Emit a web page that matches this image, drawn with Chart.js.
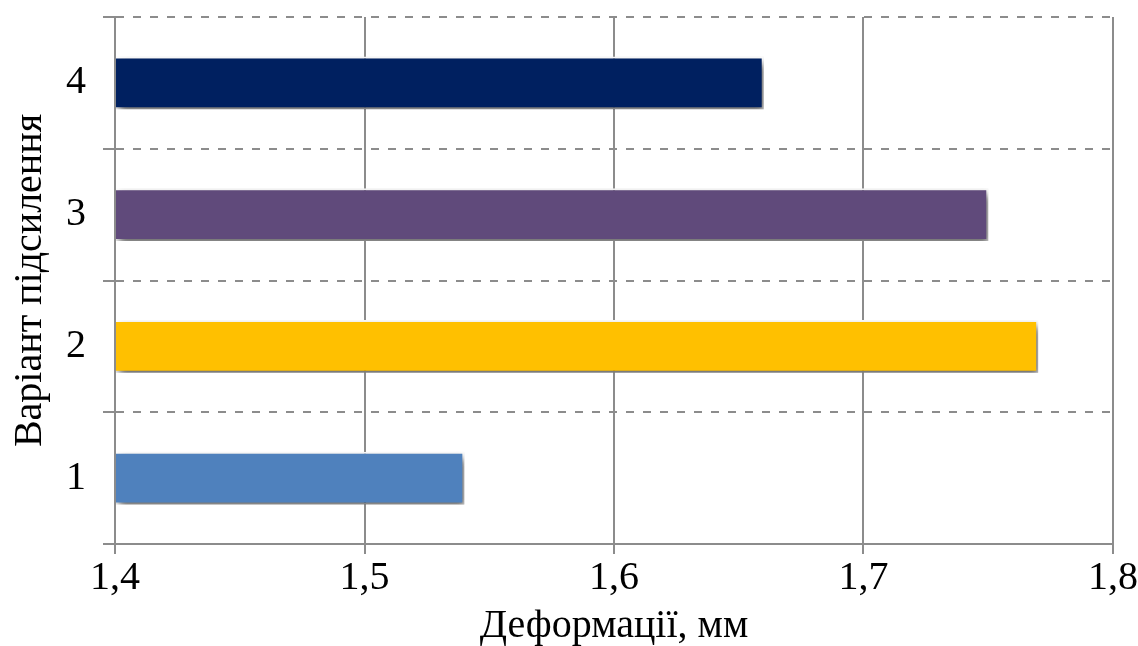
<!DOCTYPE html>
<html>
<head>
<meta charset="utf-8">
<script src="https://cdn.jsdelivr.net/npm/chart.js@4/dist/chart.umd.min.js"></script>
<style>
  html, body { margin: 0; padding: 0; background: #ffffff; }
  #wrap { width: 1138px; height: 646px; }
</style>
</head>
<body>
<div id="wrap"><canvas id="c" width="1138" height="646"></canvas></div>
<script>
// Reinforcement variants and their deformation, mm
const variants = ['1', '2', '3', '4'];
const deformation = [1.54, 1.77, 1.75, 1.66];
const barColors = ['#4F81BD', '#FFC000', '#604A7B', '#002060'];
const xTickLabels = ['1,4', '1,5', '1,6', '1,7', '1,8'];
const xTitle = 'Деформації, мм';
const yTitle = 'Варіант підсилення';

const FONT = "'Liberation Serif', 'Times New Roman', serif";
const FONT_SIZE = 40;
const GRID = '#8c8c8c';

// Soft drop shadow under the bars
const barShadow = {
  id: 'barShadow',
  beforeDatasetsDraw(chart) {
    const ctx = chart.ctx;
    ctx.save();
    ctx.shadowColor = 'rgba(0,0,0,0.6)';
    ctx.shadowBlur = 8;
    ctx.shadowOffsetX = 3;
    ctx.shadowOffsetY = 5;
  },
  afterDatasetsDraw(chart) {
    chart.ctx.restore();
  }
};

new Chart(document.getElementById('c'), {
  type: 'bar',
  data: {
    labels: variants,
    datasets: [{
      data: deformation,
      base: 1.4,
      backgroundColor: barColors,
      borderColor: '#ffffff',
      borderWidth: 2,
      borderSkipped: 'start',
      barPercentage: 0.40,
      categoryPercentage: 1.0
    }]
  },
  options: {
    indexAxis: 'y',
    responsive: false,
    animation: false,
    layout: { padding: { top: 17, right: 25, left: 0, bottom: 0 } },
    plugins: {
      legend: { display: false },
      tooltip: { enabled: false },
      title: { display: false }
    },
    scales: {
      x: {
        type: 'linear',
        min: 1.4,
        max: 1.8,
        ticks: {
          stepSize: 0.1,
          color: '#000000',
          padding: 0,
          font: { family: FONT, size: FONT_SIZE },
          callback: (v, i) => xTickLabels[i]
        },
        grid: {
          color: GRID,
          lineWidth: 2,
          tickLength: 10,
          tickColor: GRID
        },
        border: { display: true, color: GRID, width: 2 },
        title: {
          display: true,
          text: xTitle,
          color: '#000000',
          font: { family: FONT, size: FONT_SIZE },
          padding: { top: 0, bottom: -4 }
        },
        afterFit(scale) {
          scale.height = 102;
          scale.paddingLeft = 0;
          scale.paddingRight = 0;
        }
      },
      y: {
        type: 'category',
        reverse: true,
        offset: true,
        ticks: {
          color: '#000000',
          padding: 17,
          font: { family: FONT, size: FONT_SIZE }
        },
        grid: {
          offset: true,
          color: GRID,
          lineWidth: 2,
          tickLength: 12,
          tickColor: GRID
        },
        border: { display: true, color: GRID, width: 2, dash: [8, 9] },
        title: {
          display: true,
          text: yTitle,
          color: '#000000',
          font: { family: FONT, size: FONT_SIZE },
          padding: { top: 6, bottom: 0 }
        },
        afterFit(scale) {
          scale.width = 115;
          scale.paddingTop = 0;
          scale.paddingBottom = 0;
        }
      }
    }
  },
  plugins: [barShadow]
});
</script>
</body>
</html>
